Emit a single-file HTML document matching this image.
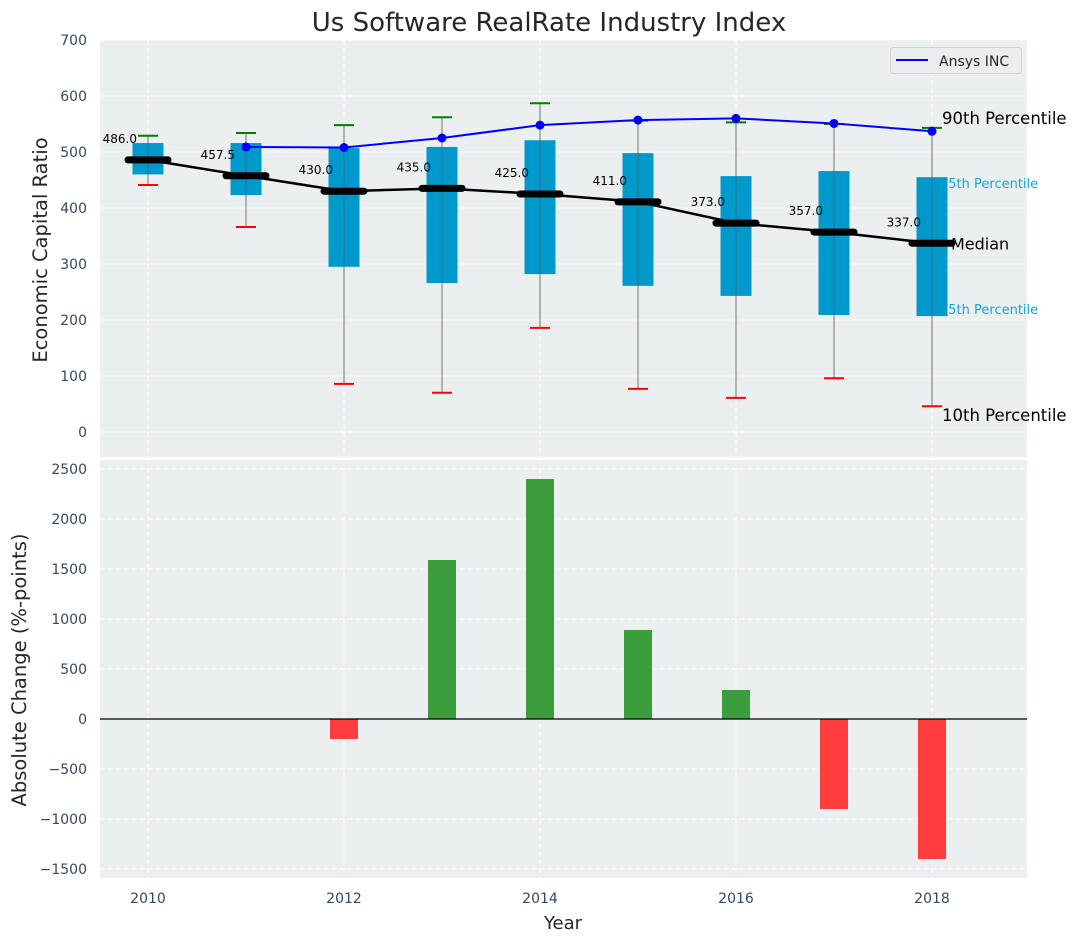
<!DOCTYPE html>
<html><head><meta charset="utf-8"><style>
html,body{margin:0;padding:0;background:#fff;}
svg{display:block;font-family:"DejaVu Sans","Liberation Sans",sans-serif;}
</style></head><body>
<svg id="chart" width="1077" height="942" viewBox="0 0 1077 942" xmlns="http://www.w3.org/2000/svg">
<text x="549" y="31" text-anchor="middle" font-size="26" fill="#262626">Us Software RealRate Industry Index</text>
<g id="topAxes"></g><g id="botAxes"></g>
</svg>
<script>
const years = [2010,2011,2012,2013,2014,2015,2016,2017,2018];
const medians = [486,457.5,430,435,425,411,373,357,337];
const q1 = [460,423,295,266,282,261,243,209,207];
const q3 = [516,516,507,509,521,498,457,466,455];
const p10 = [441,366,86,70,186,77,61,96,46];
const p90 = [529,534,548,562,587,556,553,550,543];
const ansysYears = [2011,2012,2013,2014,2015,2016,2017,2018];
const ansys = [509,508,525,548,557,560,551,537];
const changes = [0,0,-200,1590,2400,890,290,-900,-1400];
const topTicks = [0,100,200,300,400,500,600,700];
const botTicks = [-1500,-1000,-500,0,500,1000,1500,2000,2500];
const xTicks = [2010,2012,2014,2016,2018];

const NS='http://www.w3.org/2000/svg';
function mk(parent,tag,attrs,text){const e=document.createElementNS(NS,tag);for(const k in attrs)e.setAttribute(k,attrs[k]);if(text!==undefined)e.textContent=text;parent.appendChild(e);return e;}
const L=100,R=1027;
const X=v=>148+(v-2010)*98;
const YT=v=>432-0.56*v;
const YB=v=>719-0.1*v;
const gTop=document.getElementById('topAxes'), gBot=document.getElementById('botAxes');
const gridC='#ffffff', tickC='#34495e';

function axes(g,y0,y1,ticks,Y,name){
  let r=mk(g,'rect',{x:L,y:y0,width:R-L,height:y1-y0,fill:'#ebefef'});
  
  
  ticks.forEach(t=>{
    let ln=mk(g,'line',{x1:L,x2:R,y1:Y(t),y2:Y(t),stroke:gridC,'stroke-width':1,'stroke-dasharray':'5,3'});
    
    
    let tx=mk(g,'text',{x:L-13,y:Y(t)+5,'text-anchor':'end','font-size':14,fill:tickC},String(t).replace('-','\u2212'));
    
    
  });
  xTicks.forEach(t=>{
    let ln=mk(g,'line',{x1:X(t),x2:X(t),y1:y0,y2:y1,stroke:gridC,'stroke-width':1,'stroke-dasharray':'5,3'});
    
    
  });
}
axes(gTop,40,457.5,topTicks,YT,'top');
axes(gBot,460,878,botTicks,YB,'bottom');

const last=years.length-1;
function lbl(x,y,t,size,col,name){let e=mk(gTop,'text',{x:x,y:y,'font-size':size,fill:col},t);}
lbl(X(years[last])+10,YT(p90[last])-4,'90th Percentile',16.5,'#000','p90-label');
lbl(X(years[last])+8,YT(q3[last])+11,'75th Percentile',13,'#1aa3d6','p75-label');
lbl(X(years[last])+8,YT(q1[last])-2,'25th Percentile',13,'#1aa3d6','p25-label');
lbl(X(years[last])+10,YT(p10[last])+15,'10th Percentile',16.5,'#000','p10-label');

years.forEach((yr,i)=>{
  const x=X(yr);
  let w=mk(gTop,'line',{x1:x,x2:x,y1:YT(p90[i]),y2:YT(p10[i]),stroke:'#888','stroke-width':1.2});
  
  
  let b=mk(gTop,'rect',{x:x-15.5,y:YT(q3[i]),width:31,height:YT(q1[i])-YT(q3[i]),fill:'#0099cc'});
  
  
  let w2=mk(gTop,'line',{x1:x,x2:x,y1:YT(q3[i]),y2:YT(q1[i]),stroke:'#555','stroke-width':1,opacity:0.6});
  
  
  let c1=mk(gTop,'line',{x1:x-10,x2:x+10,y1:YT(p90[i]),y2:YT(p90[i]),stroke:'green','stroke-width':2});
  
  
  let c2=mk(gTop,'line',{x1:x-10,x2:x+10,y1:YT(p10[i]),y2:YT(p10[i]),stroke:'red','stroke-width':2});
  
  
});
let mp=mk(gTop,'polyline',{points:years.map((y,i)=>X(y)+','+YT(medians[i])).join(' '),fill:'none',stroke:'#000','stroke-width':2.5});


years.forEach((yr,i)=>{
  let m=mk(gTop,'line',{x1:X(yr)-20,x2:X(yr)+20,y1:YT(medians[i]),y2:YT(medians[i]),stroke:'#000','stroke-width':7,'stroke-linecap':'round'});
  
  
  let t=mk(gTop,'text',{x:X(yr)-11,y:YT(medians[i])-17,'text-anchor':'end','font-size':12,fill:'#000'},medians[i].toFixed(1));
  
  
});
lbl(X(years[last])+19,YT(medians[last])+6,'Median',16,'#000','median-label');
let ap=mk(gTop,'polyline',{points:ansysYears.map((y,i)=>X(y)+','+YT(ansys[i])).join(' '),fill:'none',stroke:'#0000ff','stroke-width':2});


ansysYears.forEach((yr,i)=>{
  let c=mk(gTop,'circle',{cx:X(yr),cy:YT(ansys[i]),r:4.5,fill:'#0000ff'});
  
  
});
const lg=mk(gTop,'g',{});


mk(lg,'rect',{x:890.5,y:47.5,width:131,height:26,rx:3,fill:'#ebedf0',stroke:'#d0d0d0'});
let ll=mk(lg,'line',{x1:896,x2:928,y1:60,y2:60,stroke:'#0000ff','stroke-width':2});


mk(lg,'text',{x:939,y:66,'font-size':14,fill:'#262626'},'Ansys INC');

changes.forEach((v,i)=>{
  const y0=YB(0),y1=YB(v);
  if(v===0)return;
  let b=mk(gBot,'rect',{x:X(years[i])-14,y:Math.min(y0,y1),width:28,height:Math.abs(y1-y0),fill:v>0?'#3c9d3c':'#ff3d3d'});
  
  
});
let zl=mk(gBot,'line',{x1:L,x2:R,y1:YB(0),y2:YB(0),stroke:'#000','stroke-width':1.2});


xTicks.forEach(t=>{
  let tx=mk(gBot,'text',{x:X(t),y:903,'text-anchor':'middle','font-size':14,fill:tickC},String(t));
  
  
});
let xt=mk(gBot,'text',{x:563,y:929,'text-anchor':'middle','font-size':18,fill:'#262626'},'Year');


let y1t=mk(gTop,'text',{x:47,y:250,'text-anchor':'middle','font-size':19.5,fill:'#262626',transform:'rotate(-90 47 250)'},'Economic Capital Ratio');


let y2t=mk(gBot,'text',{x:26,y:670,'text-anchor':'middle','font-size':19.5,fill:'#262626',transform:'rotate(-90 26 670)'},'Absolute Change (%-points)');


</script>
</body></html>
